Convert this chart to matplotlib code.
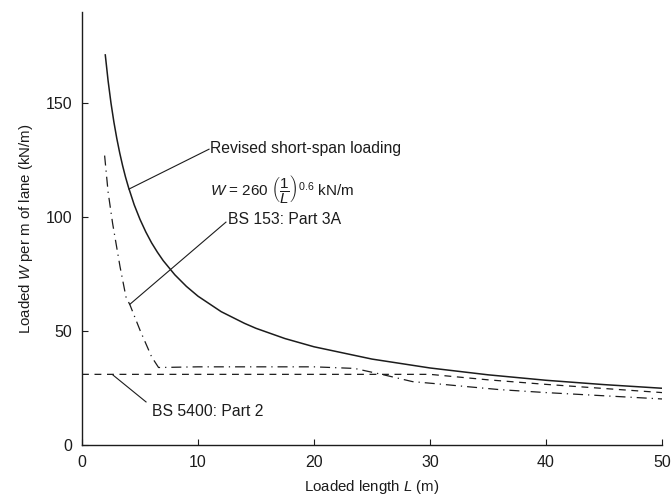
import matplotlib
matplotlib.use("Agg")
import matplotlib.pyplot as plt

plt.rcParams['font.family'] = ['Liberation Sans', 'DejaVu Sans']
plt.rcParams['mathtext.fontset'] = 'custom'
plt.rcParams['mathtext.rm'] = 'Liberation Sans'
plt.rcParams['mathtext.it'] = 'Liberation Sans:italic'
plt.rcParams['mathtext.bf'] = 'Liberation Sans:bold'

# --- data ---
revised_L = [2, 2.25, 2.5, 2.75, 3, 3.25, 3.5, 3.75, 4, 4.5, 5, 5.5, 6, 6.5, 7, 8, 9, 10,
             12, 14, 15, 17.5, 20, 25, 30, 35, 40, 45, 50]
revised_W = [171.5, 159.8, 150.0, 141.7, 134.5, 128.2, 122.6, 117.6, 113.2, 105.4, 99.0,
             93.5, 88.7, 84.6, 80.9, 74.7, 69.6, 65.3, 58.5, 53.4, 51.2, 46.7, 43.1, 37.7,
             33.8, 30.8, 28.4, 26.5, 24.9]

bs153_L = [1.95, 2.25, 2.64, 3.28, 3.79, 4.14, 5.0, 6.0, 6.6, 10, 15, 20, 23.5, 26, 28.5,
           30.5, 33, 36, 40, 45, 50]
bs153_W = [127, 111, 97.2, 78.2, 65.0, 61.4, 50.4, 38.7, 34.0, 34.3, 34.3, 34.3, 33.6, 30.8,
           27.8, 26.9, 25.7, 24.3, 23.0, 21.6, 20.2]

bs5400_L = [0, 10, 20, 30, 35, 40, 45, 50]
bs5400_W = [31, 31, 31, 31, 28.6, 26.6, 24.8, 23.0]

xticks = [0, 10, 20, 30, 40, 50]
yticks = [0, 50, 100, 150]

ink = '#1c1c1c'

fig = plt.figure(figsize=(6.71, 5.0), dpi=100)
ax = fig.add_axes([82/671, 1 - 445/500, 580/671, (445 - 12)/500])

ax.plot(revised_L, revised_W, color=ink, lw=1.1, solid_capstyle='butt')
ax.plot(bs153_L, bs153_W, color=ink, lw=0.9, dashes=(8, 4, 1, 4))
ax.plot(bs5400_L, bs5400_W, color=ink, lw=0.9, dashes=(5.5, 4.5))

ax.set_xlim(0, 50)
ax.set_ylim(0, 190)
ax.set_xticks(xticks)
ax.set_yticks(yticks)
ax.tick_params(direction='in', length=4, width=0.8, colors=ink, labelsize=11.5, pad=7)
for s in ['top', 'right']:
    ax.spines[s].set_visible(False)
for s in ['left', 'bottom']:
    ax.spines[s].set_color(ink)
    ax.spines[s].set_linewidth(1.0)

ax.set_xlabel('Loaded length $L$ (m)', fontsize=10.8, color=ink, labelpad=6)
ax.set_ylabel('Loaded $W$ per m of lane (kN/m)', fontsize=10.8, color=ink, labelpad=8)

# annotations
fs = 11.3
ax.text(11.03, 130.3, 'Revised short-span loading', fontsize=fs, color=ink, va='center', ha='left')
ax.text(11.03, 112.3, r'$W$ = 260 $\left(\dfrac{1}{L}\right)^{0.6}$ kN/m', fontsize=11, color=ink,
        va='center', ha='left')
ax.plot([10.95, 4.05], [129.8, 112.3], color=ink, lw=0.8)

ax.text(12.6, 99.1, 'BS 153: Part 3A', fontsize=fs, color=ink, va='center', ha='left')
ax.plot([12.41, 4.14], [97.8, 61.8], color=ink, lw=0.8)

ax.text(6.03, 14.9, 'BS 5400: Part 2', fontsize=fs, color=ink, va='center', ha='left')
ax.plot([5.52, 2.67], [18.9, 30.7], color=ink, lw=0.8)

fig.savefig('out.png', dpi=100)
